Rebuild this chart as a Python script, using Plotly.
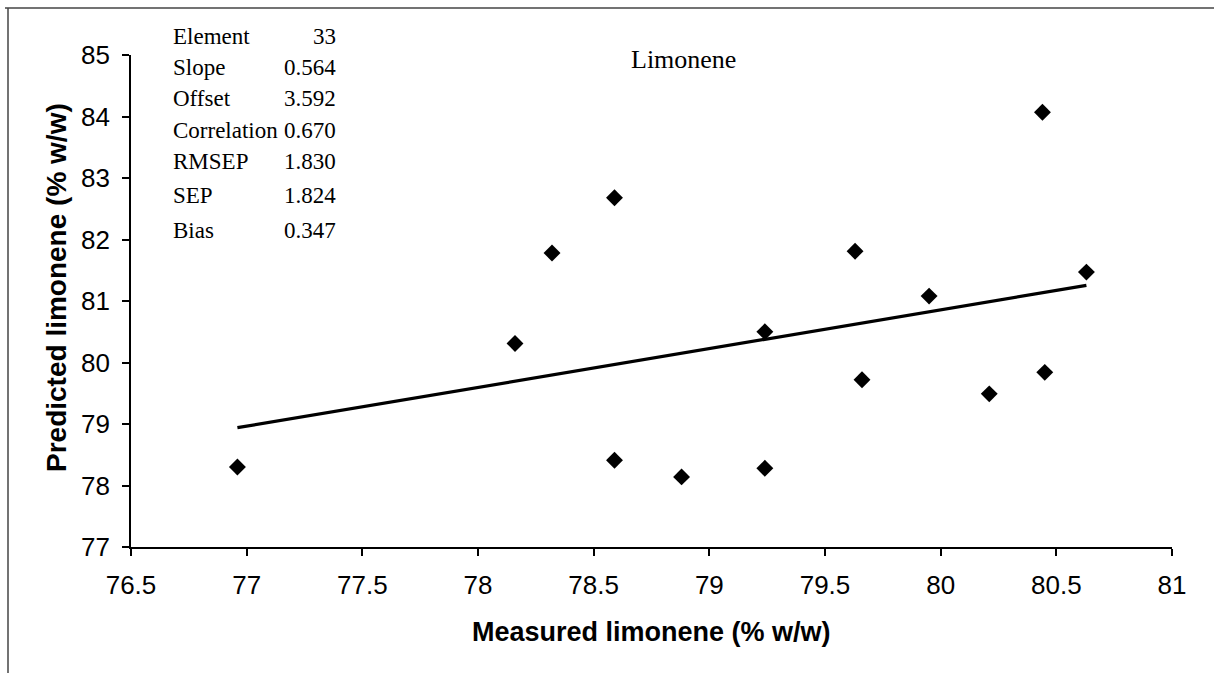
import numpy as np
import plotly.graph_objects as go

# Measured vs predicted limonene content (% w/w)
measured = [76.96, 78.16, 78.32, 78.59, 78.59, 78.88, 79.24, 79.24,
            79.63, 79.66, 79.95, 80.21, 80.44, 80.45, 80.63]
predicted = [78.30, 80.31, 81.78, 82.68, 78.41, 78.14, 78.28, 80.50,
             81.81, 79.72, 81.08, 79.49, 84.07, 79.84, 81.47]

stat_names = ["Element", "Slope", "Offset", "Correlation", "RMSEP", "SEP", "Bias"]
stat_values = ["33", "0.564", "3.592", "0.670", "1.830", "1.824", "0.347"]

x_ticks = [76.5, 77, 77.5, 78, 78.5, 79, 79.5, 80, 80.5, 81]
y_ticks = [77, 78, 79, 80, 81, 82, 83, 84, 85]

# least-squares trend line over the measured range
coef = np.polyfit(measured, predicted, 1)
fit_x = np.array([min(measured), max(measured)])
fit_y = np.polyval(coef, fit_x)

W, H = 1214, 673
L, R, T, B = 131, 1172, 55, 547


def px(x):
    return (x - L) / (R - L)


def py(y):
    return (B - y) / (B - T)


fig = go.Figure()
fig.add_trace(go.Scatter(x=fit_x, y=fit_y, mode="lines",
                         line=dict(color="black", width=3.2),
                         showlegend=False, hoverinfo="skip"))
fig.add_trace(go.Scatter(x=measured, y=predicted, mode="markers",
                         marker=dict(symbol="diamond", size=13, color="black"),
                         showlegend=False))

axis_common = dict(showgrid=False, zeroline=False, showline=True,
                   linecolor="black", linewidth=1.6, ticks="outside",
                   ticklen=7, tickwidth=1.6, tickcolor="black",
                   tickfont=dict(family="Liberation Sans, Arial", size=26,
                                 color="black"),
                   ticklabelstandoff=7)
fig.update_xaxes(range=[76.5, 81], tickvals=x_ticks,
                 ticktext=[f"{v:g}" for v in x_ticks], **axis_common)
fig.update_yaxes(range=[77, 85], tickvals=y_ticks, **axis_common)

ann = []
title_font = dict(family="Liberation Sans, Arial", size=27, color="black")
ann.append(dict(text="<b>Measured limonene (% w/w)</b>", x=px(651), y=py(632),
                xref="paper", yref="paper", showarrow=False, font=title_font,
                xanchor="center", yanchor="middle"))
ann.append(dict(text="<b>Predicted limonene (% w/w)</b>", x=px(56), y=py(288),
                xref="paper", yref="paper", showarrow=False,
                font=dict(title_font, size=28),
                textangle=-90, xanchor="center", yanchor="middle"))

serif = dict(family="Liberation Serif, Times New Roman", size=23, color="black")
ann.append(dict(text="Limonene", x=px(683), y=py(59), xref="paper",
                yref="paper", showarrow=False, xanchor="center",
                yanchor="middle", font=dict(serif, size=26)))

rows_y = [37, 67, 98, 130, 161, 195, 231]
for name, val, ry in zip(stat_names, stat_values, rows_y):
    ann.append(dict(text=name, x=px(171), y=py(ry), xref="paper",
                    yref="paper", showarrow=False, xanchor="left",
                    yanchor="middle", font=serif))
    ann.append(dict(text=val, x=px(338), y=py(ry), xref="paper",
                    yref="paper", showarrow=False, xanchor="right",
                    yanchor="middle", font=serif))

# outer frame lines (top and left)
shapes = [
    dict(type="line", xref="paper", yref="paper", x0=px(5), x1=px(W),
         y0=py(8), y1=py(8), line=dict(color="#444444", width=1.5)),
    dict(type="line", xref="paper", yref="paper", x0=px(8), x1=px(8),
         y0=py(8), y1=py(H), line=dict(color="#444444", width=1.5)),
]

fig.update_layout(width=W, height=H, margin=dict(l=L, r=W - R, t=T, b=H - B),
                  paper_bgcolor="white", plot_bgcolor="white",
                  annotations=ann, shapes=shapes)

fig.write_html("out.html")
